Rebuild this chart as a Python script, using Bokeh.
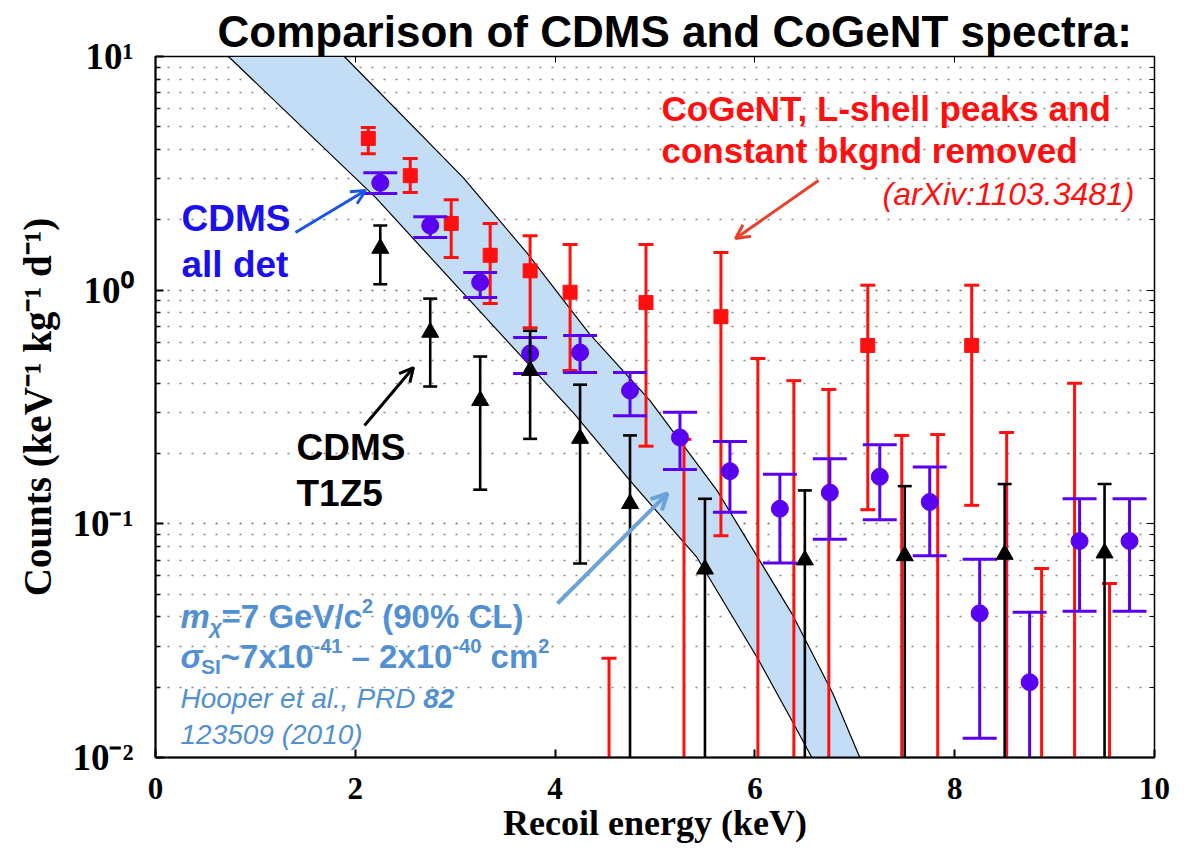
import math
from bokeh.plotting import figure
from bokeh.models import (ColumnDataSource, FixedTicker, LogAxis, LinearAxis, Label,
                          Arrow, OpenHead, Range1d)
from bokeh.embed import file_html
from bokeh.resources import INLINE

NAN = float("nan")
LOW = 1e-3  # error bar continues below the plotted range

# ---------------- data ----------------
# CoGeNT (red squares)
cogent_x = [2.13, 2.55, 2.96, 3.35, 3.75, 4.15, 4.54, 4.91, 5.29, 5.66, 6.03,
            6.39, 6.74, 7.13, 7.47, 7.83, 8.17, 8.52, 8.87, 9.20, 9.55]
cogent_y = [4.46, 3.09, 1.93, 1.41, 1.21, 0.98, NAN, 0.885, NAN, 0.77, NAN,
            NAN, NAN, 0.58, NAN, NAN, 0.58, NAN, NAN, NAN, NAN]
cogent_hi = [4.97, 3.66, 2.44, 1.93, 1.71, 1.57, 0.0266, 1.57, 0.23, 1.45, 0.51,
             0.41, 0.376, 1.05, 0.239, 0.241, 1.05, 0.246, 0.0644, 0.40, 0.0556]
cogent_lo = [3.84, 2.62, 1.38, 0.877, 0.69, 0.453, LOW, 0.215, LOW, 0.089, LOW,
             LOW, LOW, 0.115, LOW, LOW, 0.12, LOW, LOW, LOW, LOW]

# CDMS all detectors (purple circles)
cdms_x = [2.25, 2.75, 3.25, 3.75, 4.25, 4.75, 5.25, 5.75, 6.25, 6.75, 7.25,
          7.75, 8.25, 8.75, 9.25, 9.75]
cdms_y = [2.88, 1.89, 1.08, 0.536, 0.541, 0.372, 0.234, 0.168, 0.116, 0.136,
          0.159, 0.124, 0.0414, 0.0210, 0.0844, 0.0844]
cdms_hi = [3.18, 2.06, 1.19, 0.627, 0.64, 0.444, 0.30, 0.225, 0.163, 0.19,
           0.218, 0.175, 0.0706, 0.0418, 0.128, 0.128]
cdms_lo = [2.59, 1.68, 0.93, 0.44, 0.444, 0.29, 0.171, 0.112, 0.068, 0.086,
           0.104, 0.073, 0.0121, LOW, 0.0423, 0.0423]

# CDMS T1Z5 (black triangles)
t1z5_x = [2.25, 2.75, 3.25, 3.75, 4.25, 4.75, 5.50, 6.50, 7.50, 8.50, 9.50]
t1z5_y = [1.51, 0.66, 0.337, 0.453, 0.232, 0.122, 0.064, 0.070, 0.073, 0.074, 0.075]
t1z5_hi = [1.89, 0.92, 0.52, 0.67, 0.394, 0.239, 0.128, 0.139, 0.145, 0.148, 0.148]
t1z5_lo = [1.06, 0.387, 0.140, 0.231, 0.0676, LOW, LOW, LOW, LOW, LOW, LOW]

# m_chi = 7 GeV band (edges)
band_low_x = [0.73, 2.20, 3.45, 4.19, 4.75, 5.42, 6.04, 6.37, 6.57]
band_low_y = [10.0, 2.50, 0.653, 0.296, 0.153, 0.0718, 0.026, 0.0144, 0.01]
band_up_x = [1.89, 3.08, 3.72, 4.34, 4.95, 5.62, 6.37, 6.78, 7.05]
band_up_y = [10.0, 3.03, 1.44, 0.653, 0.337, 0.139, 0.0413, 0.0188, 0.01]

x_ticks = [0, 2, 4, 6, 8, 10]
y_ticks = [0.01, 0.1, 1, 10]
y_tick_labels = ["10\u207b\u00b2", "10\u207b\u00b9", "10\u2070", "10\u00b9"]

# ---------------- colours ----------------
RED = "#ff1010"
PURPLE = "#5a00f0"
BLACK = "#000000"
BAND = "#c3ddf7"
LBLUE = "#5290d2"

# frame in page pixels: x 155..1154, y 757 (0.01) .. 56 (10)
def dx(px):
    return (px - 155) / 99.9


def dy(py):
    return 10 ** ((757 - py) / 233.67 - 2)


p = figure(width=1188, height=852, output_backend="svg", toolbar_location=None,
           x_range=Range1d(0, 10), y_range=Range1d(0.01, 10), y_axis_type="log",
           min_border_left=155, min_border_right=34, min_border_top=56,
           min_border_bottom=95)
p.background_fill_color = "white"
p.border_fill_color = "white"
p.outline_line_color = "black"
p.outline_line_width = 1.5

# title
p.title.text = "Comparison of CDMS and CoGeNT spectra:"
p.title.text_font = "Liberation Sans"
p.title.text_font_style = "bold"
p.title.text_font_size = "44px"
p.title.text_color = "black"
p.title.align = "left"
p.title.offset = 62
p.title.standoff = 1

# ticks / grid
minor = [m * 10.0 ** e for e in (-2, -1, 0) for m in range(2, 10)]
yt = FixedTicker(ticks=y_ticks, minor_ticks=minor)
xt = FixedTicker(ticks=x_ticks)

p.yaxis.ticker = yt
p.xaxis.ticker = xt
p.yaxis.major_label_overrides = {t: l for t, l in zip(y_ticks, y_tick_labels)}
for ax in (p.xaxis[0], p.yaxis[0]):
    ax.major_tick_in = 8
    ax.major_tick_out = 0
    ax.minor_tick_in = 5
    ax.minor_tick_out = 0
    ax.axis_line_width = 2
    ax.major_tick_line_width = 2
    ax.minor_tick_line_width = 1.5
    ax.major_label_text_font = "Liberation Serif"
    ax.major_label_text_font_style = "bold"
    ax.axis_label_text_font = "Liberation Serif"
    ax.axis_label_text_font_style = "bold"
    ax.axis_label_text_color = "black"
    ax.major_label_text_color = "black"

p.yaxis.major_label_text_font_size = "37px"
p.yaxis.major_label_standoff = 22
p.yaxis.axis_label = "Counts (keV\u207b\u00b9 kg\u207b\u00b9 d\u207b\u00b9)"
p.yaxis.axis_label_text_font_size = "39px"
p.yaxis.axis_label_standoff = 10
p.xaxis.major_label_text_font_size = "31px"
p.xaxis.major_label_standoff = 20
p.xaxis.axis_label = "Recoil energy (keV)"
p.xaxis.axis_label_text_font_size = "36px"
p.xaxis.axis_label_standoff = 1
p.xaxis.minor_tick_in = 0

right = LogAxis(ticker=yt, major_tick_in=8, major_tick_out=0, minor_tick_in=5,
                minor_tick_out=0, major_label_text_font_size="2px",
                major_label_text_color=None, major_label_standoff=0, axis_line_width=1)
top = LinearAxis(ticker=xt, major_tick_in=6, major_tick_out=0, minor_tick_in=0,
                 minor_tick_out=0, major_label_text_font_size="2px",
                 major_label_text_color=None, major_label_standoff=0, axis_line_width=1)
p.add_layout(right, "right")
p.add_layout(top, "above")

p.xgrid.visible = False
p.ygrid.ticker = yt
p.ygrid.grid_line_color = "#444444"
p.ygrid.grid_line_dash = "2 10"
p.ygrid.grid_line_width = 1.7
p.ygrid.grid_line_alpha = 0.8
p.ygrid.minor_grid_line_color = "#555555"
p.ygrid.minor_grid_line_dash = "2 10"
p.ygrid.minor_grid_line_width = 1.7
p.ygrid.minor_grid_line_alpha = 0.7

# band
p.patch(band_low_x + band_up_x[::-1], band_low_y + band_up_y[::-1],
        fill_color=BAND, line_color=None)
p.line(band_low_x, band_low_y, line_color="black", line_width=1.2)
p.line(band_up_x, band_up_y, line_color="black", line_width=1.2)


def errbars(xs, ys, lo, hi, color, capw, lw, marker, size):
    src = ColumnDataSource(dict(
        x=xs, y=ys, lo=lo, hi=hi,
        xl=[x - capw for x in xs], xr=[x + capw for x in xs]))
    p.segment("x", "lo", "x", "hi", source=src, line_color=color, line_width=lw)
    p.segment("xl", "hi", "xr", "hi", source=src, line_color=color, line_width=lw)
    p.segment("xl", "lo", "xr", "lo", source=src, line_color=color, line_width=lw)
    p.scatter("x", "y", source=src, marker=marker, size=size,
              fill_color=color, line_color=color)


errbars(cogent_x, cogent_y, cogent_lo, cogent_hi, RED, 0.075, 3, "square", 14)
errbars(cdms_x, cdms_y, cdms_lo, cdms_hi, PURPLE, 0.17, 3, "circle", 17)
errbars(t1z5_x, t1z5_y, t1z5_lo, t1z5_hi, BLACK, 0.07, 2.6, "triangle", 17)


def label(px, py, text, color, size, style="bold", align="left", font="Liberation Sans"):
    p.add_layout(Label(x=dx(px), y=dy(py), text=text, text_color=color,
                       text_font=font, text_font_size=size, text_font_style=style,
                       text_align=align, text_baseline="middle"))


# approximate advance widths (per 1000 em) of Liberation Sans, for placing text runs
BOLDW = {' ': 278, '(': 333, ')': 333, '%': 889, ',': 278, '-': 333, '.': 278,
         '/': 278, ':': 333, '=': 584, '~': 584, 'C': 722, 'G': 778, 'L': 611,
         'V': 667, 'S': 667, 'I': 278, 'c': 556, 'm': 889, 'x': 556, 'e': 556,
         '\u2013': 556, '\u03c7': 560, '\u03c3': 620}
REGW = {'H': 722, 'o': 556, 'p': 556, 'e': 556, 'r': 333, ' ': 278, 't': 278,
        'a': 556, 'l': 222, '.': 278, ',': 278, 'P': 667, 'R': 722, 'D': 722,
        '(': 333, ')': 333}


def width(text, size, style):
    table = BOLDW if "bold" in style else REGW
    return sum(table.get(ch, 556) for ch in text) * size / 1000.0


def runs(px, py, parts, color):
    x = px
    for text, size, style, off in parts:
        stripped = text.lstrip(" ")
        x += width(text[:len(text) - len(stripped)], size, style)
        label(x, py + off, stripped, color, f"{size}px", style)
        x += width(stripped, size, style)


# CoGeNT annotation
label(661, 108, "CoGeNT, L-shell peaks and", RED, "35px")
label(661, 150, "constant bkgnd removed", RED, "35px")
label(1134, 193, "(arXiv:1103.3481)", RED, "32px", style="italic", align="right")
p.add_layout(Arrow(end=OpenHead(size=14, line_color="#e8402a", line_width=3),
                   x_start=dx(818), y_start=dy(180), x_end=dx(735), y_end=dy(238),
                   line_color="#e8402a", line_width=3))

# CDMS all det
label(181, 218, "CDMS", "#1a10ee", "37px")
label(181, 264, "all det", "#1a10ee", "37px")
p.add_layout(Arrow(end=OpenHead(size=14, line_color="#1a55e8", line_width=3),
                   x_start=dx(295), y_start=dy(232), x_end=dx(365), y_end=dy(190),
                   line_color="#1a55e8", line_width=3))

# CDMS T1Z5
label(296, 447, "CDMS", BLACK, "37px")
label(296, 493, "T1Z5", BLACK, "37px")
p.add_layout(Arrow(end=OpenHead(size=14, line_color=BLACK, line_width=3),
                   x_start=dx(364), y_start=dy(425), x_end=dx(413), y_end=dy(367),
                   line_color=BLACK, line_width=3))

# model band annotation
runs(180, 616, [("m", 33, "bold italic", 0), ("\u03c7", 21, "bold italic", 10),
                ("=7 GeV/c", 33, "bold", 0), ("2", 20, "bold", -11),
                (" (90% CL)", 33, "bold", 0)], LBLUE)
runs(180, 656, [("\u03c3", 33, "bold italic", 0), ("SI", 21, "bold", 10),
                ("~7x10", 33, "bold", 0), ("-41", 20, "bold", -11),
                (" \u2013 2x10", 33, "bold", 0), ("-40", 20, "bold", -11),
                (" cm", 33, "bold", 0), ("2", 20, "bold", -11)], LBLUE)
runs(180, 698, [("Hooper et al., PRD ", 28, "italic", 0),
                ("82", 28, "bold italic", 0)], LBLUE)
label(180, 734, "123509 (2010)", LBLUE, "28px", style="italic")
p.add_layout(Arrow(end=OpenHead(size=16, line_color="#6ba3d8", line_width=4),
                   x_start=dx(557), y_start=dy(603), x_end=dx(667), y_end=dy(493),
                   line_color="#6ba3d8", line_width=4))

open("out.html", "w").write(file_html(p, INLINE))
